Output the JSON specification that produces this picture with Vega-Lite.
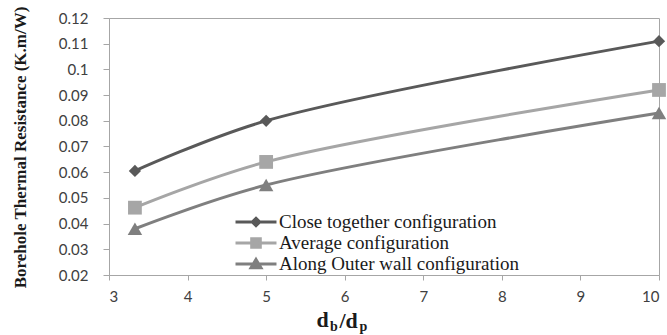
{
  "$schema": "https://vega.github.io/schema/vega-lite/v6.json",
  "width": 550,
  "height": 257,
  "autosize": {"type": "none"},
  "padding": {"left": 109, "top": 18, "right": 8, "bottom": 60},
  "background": "white",
  "config": {
    "view": {"stroke": "#a6a6a6", "strokeWidth": 1},
    "axis": {
      "domainColor": "#a6a6a6",
      "tickColor": "#a6a6a6",
      "grid": false,
      "labelFont": "Lato",
      "labelFontSize": 15,
      "labelColor": "#404040",
      "titleFont": "Liberation Serif",
      "titleFontWeight": "bold",
      "titleColor": "#1a1a1a"
    }
  },
  "title": {
    "text": "b",
    "orient": "bottom",
    "anchor": "start",
    "frame": "group",
    "font": "Liberation Serif",
    "fontWeight": "bold",
    "fontSize": 14,
    "color": "#1a1a1a",
    "dx": 221,
    "offset": -13
  },
  "data": {
    "values": [
      {"ratio": 3.33, "config": "Close together configuration", "R": 0.0605},
      {"ratio": 5, "config": "Close together configuration", "R": 0.080},
      {"ratio": 10, "config": "Close together configuration", "R": 0.111},
      {"ratio": 3.33, "config": "Average configuration", "R": 0.0462},
      {"ratio": 5, "config": "Average configuration", "R": 0.064},
      {"ratio": 10, "config": "Average configuration", "R": 0.092},
      {"ratio": 3.33, "config": "Along Outer wall configuration", "R": 0.038},
      {"ratio": 5, "config": "Along Outer wall configuration", "R": 0.055},
      {"ratio": 10, "config": "Along Outer wall configuration", "R": 0.083}
    ]
  },
  "resolve": {"axis": {"x": "independent", "y": "independent"}},
  "encoding": {
    "x": {
      "field": "ratio",
      "type": "quantitative",
      "scale": {"domain": [3, 10], "nice": false, "zero": false}
    },
    "y": {
      "field": "R",
      "type": "quantitative",
      "scale": {"domain": [0.02, 0.12], "nice": false, "zero": false}
    },
    "color": {
      "field": "config",
      "type": "nominal",
      "sort": ["Close together configuration", "Average configuration", "Along Outer wall configuration"],
      "scale": {
        "domain": ["Close together configuration", "Average configuration", "Along Outer wall configuration"],
        "range": ["#595959", "#a6a6a6", "#7f7f7f"]
      }
    }
  },
  "layer": [
    {
      "mark": {"type": "line", "interpolate": "catmull-rom", "strokeWidth": 3},
      "encoding": {
        "x": {
          "field": "ratio",
          "type": "quantitative",
          "axis": {
            "orient": "bottom",
            "values": [3, 4, 5, 6, 7, 8, 9, 10],
            "format": "d",
            "tickSize": 5,
            "labelPadding": 9,
            "title": "d",
            "titleFontSize": 22,
            "titleAlign": "left",
            "titleBaseline": "alphabetic",
            "titleAnchor": "start",
            "titleX": 207,
            "titleY": 51,
            "encode": {"ticks": {"update": {"y": {"value": -5}, "y2": {"value": 5}}}}
          }
        },
        "y": {
          "field": "R",
          "type": "quantitative",
          "axis": {
            "orient": "left",
            "values": [0.02, 0.03, 0.04, 0.05, 0.06, 0.07, 0.08, 0.09, 0.1, 0.11, 0.12],
            "format": ".2~f",
            "tickSize": 6,
            "labelPadding": 15,
            "title": "Borehole Thermal Resistance (K.m/W)",
            "titleFontSize": 17,
            "titleAngle": -90,
            "titleAlign": "center",
            "titleBaseline": "alphabetic",
            "titleX": -84,
            "titleY": 129,
            "encode": {"ticks": {"update": {"x": {"value": 6}, "x2": {"value": -6}}}}
          }
        },
        "color": {
          "field": "config",
          "type": "nominal",
          "legend": {
            "title": null,
            "orient": "none",
            "legendX": 125,
            "legendY": 194,
            "padding": 0,
            "symbolSize": 1680,
            "clipHeight": 20,
            "rowPadding": 1,
            "labelOffset": 1,
            "labelFont": "Liberation Serif",
            "labelFontSize": 19,
            "labelColor": "#1a1a1a",
            "labelLimit": 400,
            "encode": {
              "symbols": {
                "update": {
                  "shape": {"signal": "datum.value === 'Close together configuration' ? 'M-1,0H1M0,-0.18L0.18,0L0,0.18L-0.18,0Z' : datum.value === 'Average configuration' ? 'M-1,0H1M-0.21,-0.21H0.21V0.21H-0.21Z' : 'M-1,0H1M0,-0.22L0.24,0.18H-0.24Z'"},
                  "fill": {"signal": "scale('color', datum.value)"},
                  "stroke": {"signal": "scale('color', datum.value)"},
                  "strokeWidth": {"value": 3},
                  "opacity": {"value": 1}
                }
              }
            }
          }
        }
      }
    },
    {
      "transform": [{"filter": "datum.config === 'Close together configuration'"}],
      "mark": {"type": "point", "shape": "diamond", "filled": true, "opacity": 1, "size": 150, "clip": false},
      "encoding": {
        "x": {
          "field": "ratio",
          "type": "quantitative",
          "axis": {
            "orient": "top",
            "domain": false,
            "ticks": false,
            "labels": false,
            "title": "/d",
            "titleFontSize": 22,
            "titleAngle": 0,
            "titleAlign": "left",
            "titleBaseline": "alphabetic",
            "titleAnchor": "start",
            "titleX": 230,
            "titleY": 309
          }
        },
        "y": {
          "field": "R",
          "type": "quantitative",
          "axis": {
            "orient": "right",
            "domain": false,
            "ticks": false,
            "labels": false,
            "title": "p",
            "titleFontSize": 14,
            "titleAngle": 0,
            "titleAlign": "left",
            "titleBaseline": "alphabetic",
            "titleX": -300,
            "titleY": 312
          }
        }
      }
    },
    {
      "transform": [{"filter": "datum.config === 'Average configuration'"}],
      "mark": {"type": "point", "shape": "square", "filled": true, "opacity": 1, "size": 190, "clip": false},
      "encoding": {
        "x": {"field": "ratio", "type": "quantitative", "axis": null},
        "y": {"field": "R", "type": "quantitative", "axis": null}
      }
    },
    {
      "transform": [{"filter": "datum.config === 'Along Outer wall configuration'"}],
      "mark": {"type": "point", "shape": "triangle-up", "filled": true, "opacity": 1, "size": 210, "clip": false},
      "encoding": {
        "x": {"field": "ratio", "type": "quantitative", "axis": null},
        "y": {"field": "R", "type": "quantitative", "axis": null}
      }
    }
  ]
}
